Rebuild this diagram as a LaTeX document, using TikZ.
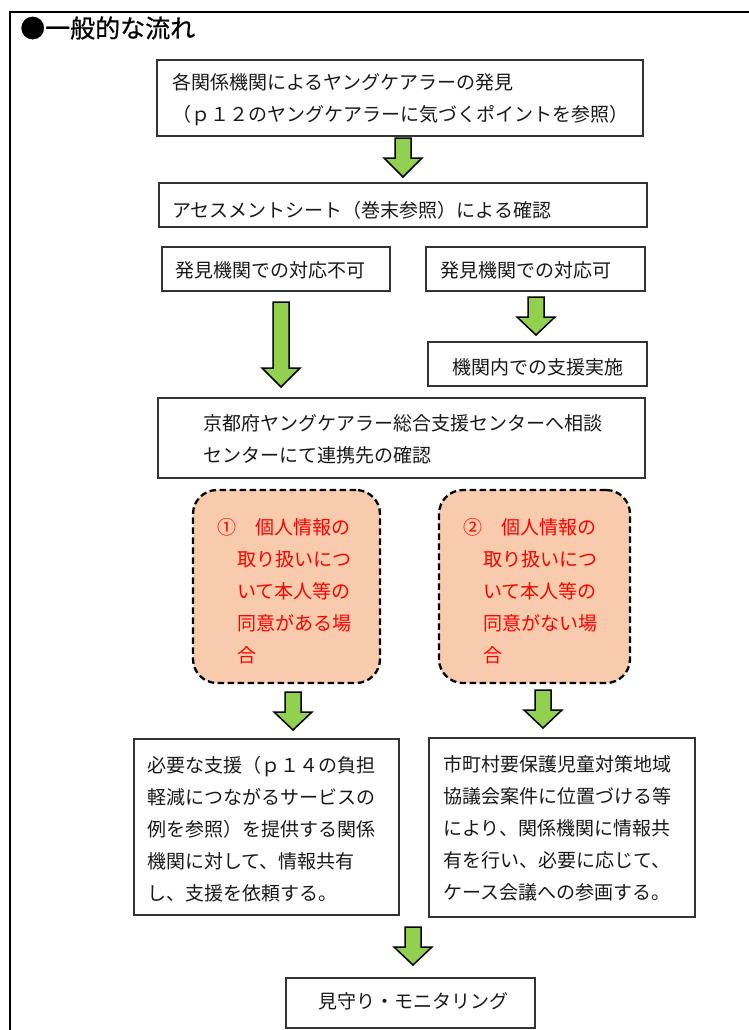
\documentclass[tikz,border=0pt]{standalone}
\usepackage{fontspec}
\newfontfamily\jp{Noto Sans CJK JP}
\newfontfamily\jpt[FakeBold=0.6]{Noto Sans CJK JP}
\usetikzlibrary{fit}
\definecolor{arrowgreen}{RGB}{146,208,80}
\definecolor{peach}{RGB}{248,203,173}
\definecolor{txtred}{RGB}{255,0,0}
\newcommand\greenarrow[5]{% name, cx, top, head, tip
  \coordinate (#1s) at (#2,#3);
  \coordinate (#1e) at (#2,#5);
  \draw[barrow] (#2-8,#3) -- (#2+8,#3) -- (#2+8,#4) -- (#2+19,#4) -- (#1e) -- (#2-19,#4) -- (#2-8,#4) -- cycle;}
\begin{document}
\begin{tikzpicture}[x=1pt,y=-1pt,
  box/.style={draw=black!80, line width=1.2pt, fill=white, inner sep=0pt},
  dbox/.style={draw=black, line width=2.3pt, dash pattern=on 6.5pt off 3.5pt, fill=peach, rounded corners=24pt, inner sep=0pt},
  txt/.style={font=\jp\fontsize{19}{32}\selectfont, text=black!90, align=left, inner sep=0pt, anchor=west},
  rtxt/.style={txt, text=txtred},
  barrow/.style={draw=black, line width=1.5pt, fill=arrowgreen, line join=miter}]
\useasboundingbox (0,0) rectangle (749,1030);
\fill[white] (0,0) rectangle (749,1030);
% frame
\draw[line width=1.8pt] (755,12) -- (10,12) -- (10,1036);
\node[anchor=west, inner sep=0pt, font=\jpt\fontsize{25}{25}\selectfont] (title) at (20,28) {●一般的な流れ};
% boxes
\node[box, fit={(157,60) (643,136)}] (b1) {};
\node[txt] (t1) at (172,100) {各関係機関によるヤングケアラーの発見\\（ｐ１２のヤングケアラーに気づくポイントを参照）};
\node[box, fit={(159,183) (647,227)}] (b2) {};
\node[txt] (t2) at (172,210) {アセスメントシート（巻末参照）による確認};
\node[box, fit={(162,247) (390,291)}] (b3l) {};
\node[txt] (t3l) at (175,270) {発見機関での対応不可};
\node[box, fit={(426,247) (645,291)}] (b3r) {};
\node[txt] (t3r) at (440,270) {発見機関での対応可};
\node[box, fit={(428,342) (647,386)}] (b4) {};
\node[txt] (t4) at (452,367) {機関内での支援実施};
\node[box, fit={(158,398) (645,478)}] (b5) {};
\node[txt] (t5) at (203,439) {京都府ヤングケアラー総合支援センターへ相談\\センターにて連携先の確認};
\node[dbox, fit={(193,490) (380,683)}] (d1) {};
\node[rtxt] (td1) at (217,591) {①　個人情報の\\\hspace*{20pt}取り扱いにつ\\\hspace*{20pt}いて本人等の\\\hspace*{20pt}同意がある場\\\hspace*{20pt}合};
\node[dbox, fit={(439,490) (630,683)}] (d2) {};
\node[rtxt] (td2) at (463,591) {②　個人情報の\\\hspace*{20pt}取り扱いにつ\\\hspace*{20pt}いて本人等の\\\hspace*{20pt}同意がない場\\\hspace*{20pt}合};
\node[box, fit={(134,739) (399,915)}] (b6l) {};
\node[txt] (t6l) at (147,829) {必要な支援（ｐ１４の負担\\軽減につながるサービスの\\例を参照）を提供する関係\\機関に対して、情報共有\\し、支援を依頼する。};
\node[box, fit={(429,738) (695,917)}] (b6r) {};
\node[txt] (t6r) at (443,828) {市町村要保護児童対策地域\\協議会案件に位置づける等\\により、関係機関に情報共\\有を行い、必要に応じて、\\ケース会議への参画する。};
\node[box, fit={(286,978) (535,1028)}] (b7) {};
\node[txt] (t7) at (318,1001) {見守り・モニタリング};
% arrows
\greenarrow{a1}{403}{138}{158}{177}
\greenarrow{a2}{281}{302}{368}{387}
\greenarrow{a3}{536}{297}{317}{335}
\greenarrow{a4}{293}{692}{712}{730}
\greenarrow{a5}{543}{690}{710}{728}
\greenarrow{a6}{413}{927}{947}{965}
\end{tikzpicture}
\end{document}
